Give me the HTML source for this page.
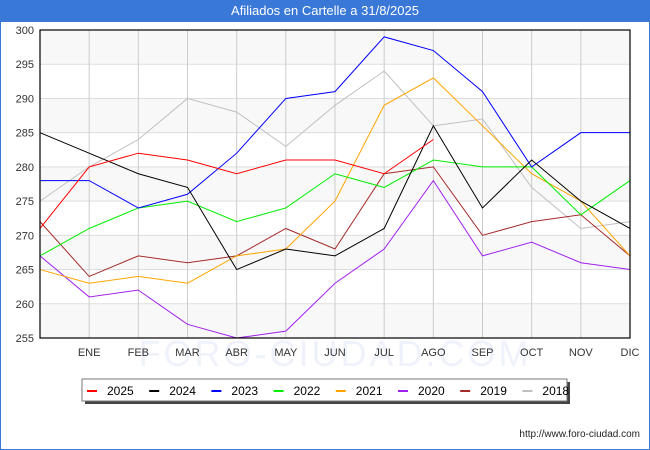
<!DOCTYPE html>
<html><head><meta charset="utf-8"><style>
body{margin:0;width:650px;height:450px;overflow:hidden;background:#fff;font-family:"Liberation Sans","DejaVu Sans",sans-serif}
#frame{position:absolute;left:0;top:0;width:648px;height:448px;border:1px solid #3a78d8}
#title{position:absolute;left:0;top:0;width:650px;height:22px;background:#3a78d8;color:#fff;font-size:13px;text-align:center;line-height:22px}
</style></head><body>
<div id="frame"></div>
<div id="title">Afiliados en Cartelle a 31/8/2025</div>
<svg id="chart" width="650" height="450" style="position:absolute;left:0;top:0"></svg>
<script>
const months=["","ENE","FEB","MAR","ABR","MAY","JUN","JUL","AGO","SEP","OCT","NOV","DIC"];
const yTicks=[255,260,265,270,275,280,285,290,295,300];
const years=["2025","2024","2023","2022","2021","2020","2019","2018"];
const colors=["#ff0000","#000000","#0000ff","#00ee00","#ffa500","#a020f0","#a52a2a","#c0c0c0"];
const s2025=[271,280,282,281,279,281,281,279,284];
const s2024=[285,282,279,277,265,268,267,271,286,274,281,275,271];
const s2023=[278,278,274,276,282,290,291,299,297,291,280,285,285];
const s2022=[267,271,274,275,272,274,279,277,281,280,280,273,278];
const s2021=[265,263,264,263,267,268,275,289,293,286,279,275,267];
const s2020=[267,261,262,257,255,256,263,268,278,267,269,266,265];
const s2019=[272,264,267,266,267,271,268,279,280,270,272,273,267];
const s2018=[275,280,284,290,288,283,289,294,286,287,277,271,272];
const series=[s2025,s2024,s2023,s2022,s2021,s2020,s2019,s2018];
const L=40,R=630,T=30,B=338,ymin=255,ymax=300;
const X=i=>L+(R-L)*i/12;
const Y=v=>B-(v-ymin)/(ymax-ymin)*(B-T);
const svg=document.getElementById('chart');const NS="http://www.w3.org/2000/svg";
function mk(t,a,p){const e=document.createElementNS(NS,t);for(const k in a)e.setAttribute(k,a[k]);(p||svg).appendChild(e);return e;}
for(let i=0;i<yTicks.length-1;i++){
 const b=mk('rect',{x:L,y:Y(yTicks[i+1]),width:R-L,height:Y(yTicks[i])-Y(yTicks[i+1]),fill:(i%2==0)?'#f8f8f8':'#ffffff'});
 
 
}
const wm=mk('text',{x:335,y:366,'text-anchor':'middle','font-size':36,fill:'#f0f2fb','letter-spacing':3});wm.textContent="FORO-CIUDAD.COM";


yTicks.forEach(v=>{
 const l=mk('line',{x1:L,x2:R,y1:Y(v),y2:Y(v),stroke:'#dddddd','stroke-width':1});
 
 
 const t=mk('text',{x:L-6,y:Y(v)+4,'text-anchor':'end','font-size':11,fill:'#333'});t.textContent=v;
 
 
});
months.forEach((m,i)=>{
 if(i>0){const l=mk('line',{x1:X(i),x2:X(i),y1:T,y2:B,stroke:'#cccccc','stroke-width':1});
 
 }
 if(m){const t=mk('text',{x:X(i),y:356,'text-anchor':'middle','font-size':11,fill:'#333'});t.textContent=m;
 
 }
});
for(let k=series.length-1;k>=0;k--){
 const p=mk('polyline',{points:series[k].map((v,i)=>X(i)+','+Y(v)).join(' '),fill:'none',stroke:colors[k],'stroke-width':1});
 
 
}
const ax=mk('rect',{x:L,y:T,width:R-L,height:B-T,fill:'none',stroke:'#000','stroke-width':1.2});


const sh=mk('rect',{x:85,y:382,width:485,height:22,fill:'#444'});


const lg=mk('rect',{x:82,y:379,width:485,height:22,fill:'#fff',stroke:'#777'});


years.forEach((y,k)=>{
 const x=87+k*62.2;
 const m=mk('line',{x1:x,x2:x+10,y1:391,y2:391,stroke:colors[k],'stroke-width':2});
 
 
 const t=mk('text',{x:x+20,y:395,'font-size':12,fill:'#000'});t.textContent=y;
 
 
});
const u=mk('text',{x:640,y:437,'text-anchor':'end','font-size':10,fill:'#222'});u.textContent="http://www.foro-ciudad.com";


</script>
</body></html>
